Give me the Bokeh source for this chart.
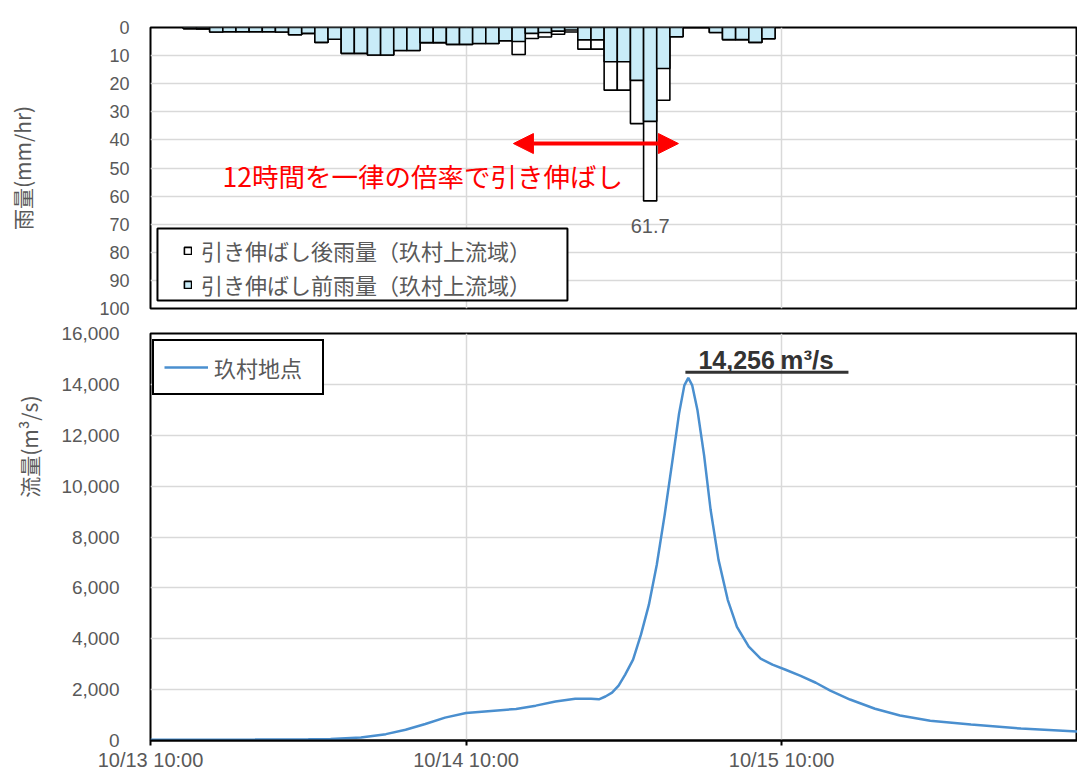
from bokeh.plotting import figure
from bokeh.layouts import column
from bokeh.models import (Range1d, FixedTicker, NumeralTickFormatter, Legend, LegendItem,
                          Label, Arrow, NormalHead, ColumnDataSource, BoxAnnotation, Title)
from bokeh.embed import file_html
from bokeh.resources import INLINE

# ---------------- data ----------------
# hours after 10/13 10:00
rain_hours = list(range(3, 48))
rain_before = [0.4, 0.5, 1.6, 1.5, 1.5, 1.5, 1.5, 1.6, 2.6, 2.1,
               5.3, 4.2, 9.2, 9.2, 9.8, 9.8, 8.2, 8.2, 5.4, 5.4,
               6.0, 6.0, 5.7, 5.7, 4.7, 5.0, 2.1, 1.8, 1.3, 0.9,
               4.4, 4.4, 12.2, 12.2, 18.8, 33.4, 14.6, 3.3, 0.0, 0.0,
               1.8, 4.3, 4.3, 5.3, 4.0]
rain_after = [0.4, 0.5, 1.6, 1.5, 1.5, 1.5, 1.5, 1.6, 2.6, 2.1,
              5.3, 4.2, 9.2, 9.2, 9.8, 9.8, 8.2, 8.2, 5.4, 5.4,
              6.0, 6.0, 5.7, 5.7, 4.7, 9.6, 3.9, 3.4, 2.4, 1.6,
              7.7, 7.7, 22.3, 22.3, 34.2, 61.7, 25.9, 3.3, 0.0, 0.0,
              1.8, 4.3, 4.3, 5.3, 4.0]

flow_hours = [0, 4, 8, 12, 13.7, 16.0, 17.9, 19.4, 20.9, 22.4, 24.0, 25.9, 27.8, 29.3,
              30.8, 32.3, 33.5, 34.1, 34.6, 35.1, 35.6, 36.1, 36.7, 37.3, 37.9, 38.5,
              39.1, 39.7, 40.2, 40.6, 40.9, 41.2, 41.6, 42.1, 42.6, 43.2, 43.9, 44.6,
              45.5, 46.4, 47.3, 48.3, 49.4, 50.6, 51.7, 53.2, 55.1, 57.0, 59.3, 62.4,
              66.2, 70.5]
flow_values = [30, 30, 35, 45, 60, 120, 250, 420, 650, 900, 1080, 1160, 1240, 1370,
               1530, 1640, 1640, 1620, 1730, 1880, 2160, 2590, 3180, 4160, 5330, 6900,
               8860, 11020, 12860, 13960, 14256, 13960, 12980, 11220, 9060, 7100, 5530, 4470,
               3690, 3220, 2980, 2780, 2550, 2270, 1960, 1610, 1250, 980, 780, 630,
               470, 350]

tick_hours = [0, 24, 48]
tick_labels = ["10/13 10:00", "10/14 10:00", "10/15 10:00"]
rain_ticks = list(range(0, 101, 10))
flow_ticks = list(range(0, 16001, 2000))

label_after = "引き伸ばし後雨量（玖村上流域）"
label_before = "引き伸ばし前雨量（玖村上流域）"
label_flow = "玖村地点"
rain_axis_title = "雨量(mm/hr)"
flow_axis_title = "流量(m³/s)"
stretch_note = "12時間を一律の倍率で引き伸ばし"
flow_unit = "m³/s"

# ---------------- style ----------------
JP = "Noto Sans CJK JP"
NUM = "Liberation Sans"
GREY = "#595959"
GRID = "#d9d9d9"
W = 1077
LEFT = 150

xr = Range1d(0, 70.5)

# ---------------- rainfall (top) ----------------
p1 = figure(width=W, height=320, x_range=xr, y_range=Range1d(100, 0),
            output_backend="svg", toolbar_location=None, x_axis_location=None,
            min_border_left=LEFT, min_border_right=0, min_border_top=27, min_border_bottom=12)
p1.background_fill_color = "white"
p1.border_fill_color = "white"
p1.outline_line_color = "black"
p1.outline_line_width = 2
p1.outline_line_alpha = 1

src = ColumnDataSource(dict(h=rain_hours, before=rain_before, after=rain_after))
r_after = p1.vbar(x="h", top="after", bottom=0, width=1, source=src,
                  fill_color="white", line_color="black", line_width=1.6)
r_before = p1.vbar(x="h", top="before", bottom=0, width=1, source=src,
                   fill_color="#c9ecf8", line_color="black", line_width=1.6)

p1.yaxis.ticker = FixedTicker(ticks=rain_ticks)
p1.yaxis.axis_line_color = None
p1.yaxis.major_tick_line_color = None
p1.yaxis.minor_tick_line_color = None
p1.yaxis.major_label_standoff = 15
p1.yaxis.major_label_text_font = NUM
p1.yaxis.major_label_text_font_size = "18px"
p1.yaxis.major_label_text_color = GREY
p1.yaxis.axis_label = rain_axis_title
p1.yaxis.axis_label_text_font = JP
p1.yaxis.axis_label_text_font_size = "21px"
p1.yaxis.axis_label_text_font_style = "normal"
p1.yaxis.axis_label_text_color = GREY
p1.yaxis.axis_label_standoff = 59
p1.ygrid.ticker = FixedTicker(ticks=rain_ticks)
p1.ygrid.grid_line_color = GRID
p1.ygrid.grid_line_width = 1.5
p1.xgrid.ticker = FixedTicker(ticks=tick_hours)
p1.xgrid.grid_line_color = GRID
p1.xgrid.grid_line_width = 1.5

# legend frame (white box with black border), then the legend entries on top
p1.add_layout(BoxAnnotation(left=0.53, right=31.71, top=71.5, bottom=97.15,
                            fill_color="white", fill_alpha=1, line_color="black",
                            line_width=2, line_alpha=1))
leg1 = Legend(items=[LegendItem(label=label_after, renderers=[r_after]),
                     LegendItem(label=label_before, renderers=[r_before])],
              location=(33, 8), orientation="vertical", padding=2, spacing=2, margin=0,
              label_height=32, glyph_width=9, glyph_height=9, label_standoff=9,
              label_text_font=JP, label_text_font_size="22px",
              label_text_color=GREY, border_line_color=None,
              background_fill_alpha=0)
p1.add_layout(leg1, "center")

i_pk_rain = rain_after.index(max(rain_after))
p1.add_layout(Label(x=rain_hours[i_pk_rain], y=rain_after[i_pk_rain] + 6.5,
                    text=f"{rain_after[i_pk_rain]:.1f}", text_align="center",
                    text_baseline="top", text_font=NUM, text_font_size="20px",
                    text_color=GREY))

p1.add_layout(Arrow(start=NormalHead(size=20, fill_color="red", line_color="red"),
                    end=NormalHead(size=20, fill_color="red", line_color="red"),
                    x_start=27.6, y_start=41.3, x_end=40.15, y_end=41.3,
                    line_color="red", line_width=4))
p1.add_layout(Label(x=5.48, y=52.7, text=stretch_note, text_align="left",
                    text_baseline="middle", text_font=JP, text_font_size="26.5px",
                    text_color="red"))

# ---------------- discharge (bottom) ----------------
p2 = figure(width=W, height=453, x_range=xr, y_range=Range1d(0, 16000),
            output_backend="svg", toolbar_location=None,
            min_border_left=LEFT, min_border_right=0, min_border_top=13, min_border_bottom=32)
p2.background_fill_color = "white"
p2.border_fill_color = "white"
p2.outline_line_color = "black"
p2.outline_line_width = 2
p2.outline_line_alpha = 1

r_flow = p2.line(flow_hours, flow_values, line_color="#4a8fcf", line_width=2.5)

p2.xaxis.ticker = FixedTicker(ticks=tick_hours)
p2.xaxis.major_label_overrides = {h: t for h, t in zip(tick_hours, tick_labels)}
p2.xaxis.axis_line_color = "black"
p2.xaxis.axis_line_width = 2
p2.xaxis.major_tick_line_color = "black"
p2.xaxis.major_tick_line_width = 2
p2.xaxis.major_tick_out = 5
p2.xaxis.major_tick_in = 0
p2.xaxis.minor_tick_line_color = None
p2.xaxis.major_label_standoff = 3
p2.xaxis.major_label_text_font = NUM
p2.xaxis.major_label_text_font_size = "20px"
p2.xaxis.major_label_text_color = GREY

p2.yaxis.ticker = FixedTicker(ticks=flow_ticks)
p2.yaxis.formatter = NumeralTickFormatter(format="0,0")
p2.yaxis.axis_line_color = None
p2.yaxis.major_tick_line_color = None
p2.yaxis.minor_tick_line_color = None
p2.yaxis.major_label_standoff = 25
p2.yaxis.major_label_text_font = NUM
p2.yaxis.major_label_text_font_size = "19px"
p2.yaxis.major_label_text_color = GREY
p2.ygrid.ticker = FixedTicker(ticks=flow_ticks)
p2.ygrid.grid_line_color = GRID
p2.ygrid.grid_line_width = 1.5
p2.xgrid.ticker = FixedTicker(ticks=tick_hours)
p2.xgrid.grid_line_color = GRID
p2.xgrid.grid_line_width = 1.5

# axis title of the discharge panel (sits above the panel centre, as in the original)
p2.add_layout(Title(text=flow_axis_title, align="right", offset=62, vertical_align="top",
                    standoff=26, text_font=JP, text_font_size="21px",
                    text_font_style="normal", text_color=GREY), "left")

leg2 = Legend(items=[LegendItem(label=label_flow, renderers=[r_flow])],
              location=(2, 345), padding=10, margin=0, label_height=32,
              glyph_width=44, glyph_height=32, label_standoff=6, label_width=98,
              label_text_font=JP, label_text_font_size="22px", label_text_color=GREY,
              border_line_color="black", border_line_width=2, border_line_alpha=1,
              background_fill_color="white", background_fill_alpha=1)
p2.add_layout(leg2, "center")

i_pk = flow_values.index(max(flow_values))
pk_t, pk_v = flow_hours[i_pk], flow_values[i_pk]
p2.add_layout(Label(x=pk_t + 0.77, y=pk_v + 690, text=f"{pk_v:,}",
                    text_align="left", text_baseline="alphabetic", text_font=NUM,
                    text_font_size="25px", text_font_style="bold", text_color="#333333"))
p2.add_layout(Label(x=pk_t + 7.0, y=pk_v + 690, text=flow_unit,
                    text_align="left", text_baseline="alphabetic", text_font=NUM,
                    text_font_size="26px", text_font_style="bold", text_color="#333333"))
p2.add_layout(Arrow(start=None, end=None, x_start=pk_t - 0.22, y_start=pk_v + 225,
                    x_end=pk_t + 12.18, y_end=pk_v + 225,
                    line_color="#333333", line_width=3))

layout = column(p1, p2, spacing=0)
open("out.html", "w").write(file_html(layout, INLINE))
